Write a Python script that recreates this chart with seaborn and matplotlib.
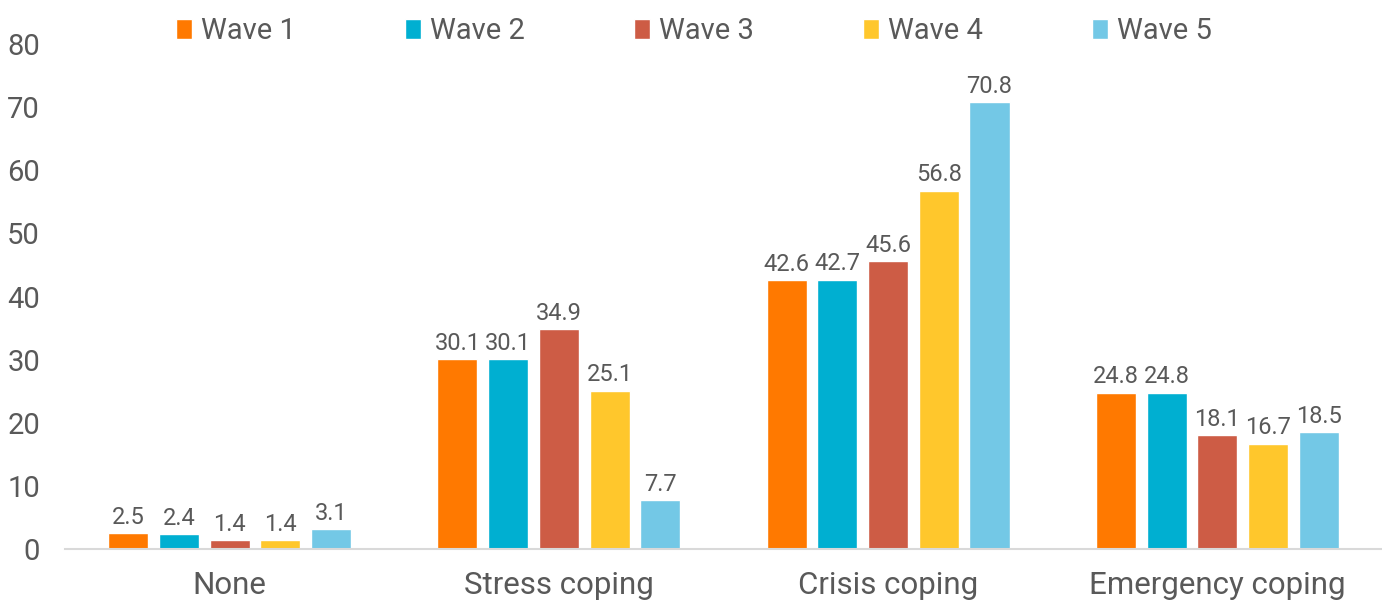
import pandas as pd
import numpy as np
import matplotlib
matplotlib.use("Agg")
import matplotlib.pyplot as plt
import seaborn as sns

categories = ["None", "Stress coping", "Crisis coping", "Emergency coping"]
waves = ["Wave 1", "Wave 2", "Wave 3", "Wave 4", "Wave 5"]
wave1 = [2.5, 30.1, 42.6, 24.8]
wave2 = [2.4, 30.1, 42.7, 24.8]
wave3 = [1.4, 34.9, 45.6, 18.1]
wave4 = [1.4, 25.1, 56.8, 16.7]
wave5 = [3.1, 7.7, 70.8, 18.5]

COLORS = ["#FF7900", "#00AFD1", "#CD5C45", "#FFC72C", "#73C8E6"]
TEXT = "#595959"

sns.set_style("white")
plt.rcParams["font.family"] = ["Roboto", "DejaVu Sans"]

rows = []
for w, vals in zip(waves, [wave1, wave2, wave3, wave4, wave5]):
    for c, v in zip(categories, vals):
        rows.append({"category": c, "wave": w, "value": v})
df = pd.DataFrame(rows)

fig = plt.figure(figsize=(13.82, 6.04), dpi=100)
ax = fig.add_axes([0.047, 0.091, 0.953, 0.836])
sns.barplot(data=df, x="category", y="value", hue="wave", order=categories,
            hue_order=waves, palette=COLORS, width=0.77, gap=0.21,
            saturation=1, ax=ax, legend=True)

# value labels above each bar
for cont in ax.containers:
    ax.bar_label(cont, fmt="%.1f", padding=3, fontsize=17, color=TEXT)

ax.set_ylim(0, 80)
ax.set_xlim(-0.5, 3.5)
ax.set_yticks(range(0, 81, 10))
ax.set_xlabel("")
ax.set_ylabel("")
ax.tick_params(axis="y", labelsize=21, colors=TEXT, length=0, pad=18)
ax.tick_params(axis="x", labelsize=22.5, colors=TEXT, length=0, pad=16)
for s in ["top", "right", "left"]:
    ax.spines[s].set_visible(False)
ax.spines["bottom"].set_color("#D9D9D9")
ax.spines["bottom"].set_linewidth(1.5)

handles, labels = ax.get_legend_handles_labels()
ax.legend_.remove()
fig.legend(handles, labels, loc="upper center", bbox_to_anchor=(0.502, 1.015),
           ncol=5, frameon=False, fontsize=21, handlelength=0.55, handleheight=0.65,
           handletextpad=0.3, columnspacing=3.75, labelcolor=TEXT)

fig.savefig("out.png", dpi=100)
